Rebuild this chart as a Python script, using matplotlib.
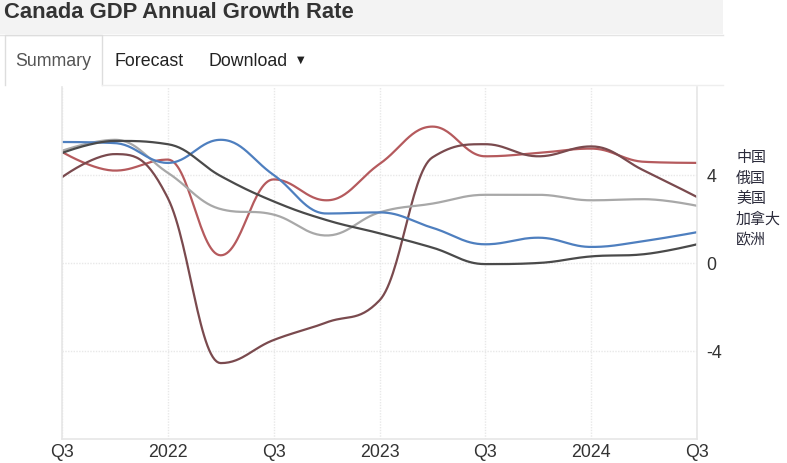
import numpy as np
import matplotlib.pyplot as plt
from matplotlib.patches import Rectangle
from matplotlib.lines import Line2D

plt.rcParams['axes.unicode_minus'] = False

quarters = ['2021Q3', '2021Q4', '2022Q1', '2022Q2', '2022Q3', '2022Q4', '2023Q1',
            '2023Q2', '2023Q3', '2023Q4', '2024Q1', '2024Q2', '2024Q3']
tick_labels = ['Q3', '2022', 'Q3', '2023', 'Q3', '2024', 'Q3']

china = [5.05, 4.2, 4.7, 0.35, 3.8, 2.85, 4.5, 6.2, 4.85, 5.0, 5.2, 4.6, 4.55]
russia = [3.9, 4.95, 2.95, -4.55, -3.5, -2.7, -1.7, 4.8, 5.4, 4.85, 5.3, 4.2, 3.0]
usa = [5.1, 5.6, 4.1, 2.45, 2.2, 1.25, 2.3, 2.7, 3.1, 3.1, 2.85, 2.9, 2.6]
canada = [5.5, 5.45, 4.55, 5.6, 4.0, 2.25, 2.3, 1.6, 0.85, 1.15, 0.73, 1.0, 1.4]
europe = [5.0, 5.55, 5.4, 3.95, 2.8, 1.95, 1.35, 0.7, -0.05, 0.0, 0.3, 0.4, 0.85]

names = ['中国', '俄国', '美国', '加拿大', '欧洲']
colors = ['#b55a5d', '#7a4a4e', '#a8a8a8', '#4e7fbf', '#4a4a4a']

W, H = 787, 464


def spline(y, n=30):
    # bezier spline like the web chart draws it (no false extremes)
    y = np.asarray(y, float)
    k = len(y)
    xs = np.arange(k, dtype=float)
    left = [None] * k
    right = [None] * k
    for i in range(k):
        if i == 0 or i == k - 1:
            left[i] = (xs[i], y[i])
            right[i] = (xs[i], y[i])
            continue
        lx = (1.5 * xs[i] + xs[i - 1]) / 2.5
        ly = (1.5 * y[i] + y[i - 1]) / 2.5
        rx = (1.5 * xs[i] + xs[i + 1]) / 2.5
        ry = (1.5 * y[i] + y[i + 1]) / 2.5
        corr = (ry - ly) * (rx - xs[i]) / (rx - lx) + y[i] - ry
        ly += corr
        ry += corr
        if ly > y[i - 1] and ly > y[i]:
            ly = max(y[i - 1], y[i])
            ry = 2 * y[i] - ly
        elif ly < y[i - 1] and ly < y[i]:
            ly = min(y[i - 1], y[i])
            ry = 2 * y[i] - ly
        if ry > y[i + 1] and ry > y[i]:
            ry = max(y[i + 1], y[i])
            ly = 2 * y[i] - ry
        elif ry < y[i + 1] and ry < y[i]:
            ry = min(y[i + 1], y[i])
            ly = 2 * y[i] - ry
        left[i] = (lx, ly)
        right[i] = (rx, ry)
    px, py = [], []
    t = np.linspace(0, 1, n, endpoint=False)
    for i in range(k - 1):
        p0 = (xs[i], y[i])
        p1 = right[i]
        p2 = left[i + 1]
        p3 = (xs[i + 1], y[i + 1])
        b0 = (1 - t)**3
        b1 = 3 * (1 - t)**2 * t
        b2 = 3 * (1 - t) * t**2
        b3 = t**3
        px.append(b0 * p0[0] + b1 * p1[0] + b2 * p2[0] + b3 * p3[0])
        py.append(b0 * p0[1] + b1 * p1[1] + b2 * p2[1] + b3 * p3[1])
    px.append([xs[-1]])
    py.append([y[-1]])
    return np.concatenate(px), np.concatenate(py)


fig = plt.figure(figsize=(W / 100, H / 100), dpi=100)
fig.patch.set_facecolor('white')


def fx(px):
    return px / W


def fy(py):
    return 1 - py / H


# header band and tabs
fig.patches.append(Rectangle((0, fy(35)), fx(723), 35 / H, transform=fig.transFigure,
                             facecolor='#f3f3f3', edgecolor='none', zorder=0))
fig.text(fx(4), fy(13), 'Canada GDP Annual Growth Rate', fontsize=15.8, fontweight='bold',
         color='#333333', family='Liberation Sans', va='center')
fig.lines.append(Line2D([fx(0), fx(723)], [fy(36), fy(36)], transform=fig.transFigure,
                        color='#e4e4e4', lw=1))
fig.lines.append(Line2D([fx(5), fx(5), fx(102), fx(102)], [fy(86), fy(36), fy(36), fy(86)],
                        transform=fig.transFigure, color='#dddddd', lw=1))
fig.lines.append(Line2D([fx(102), fx(723)], [fy(86), fy(86)], transform=fig.transFigure,
                        color='#eeeeee', lw=1))
fig.text(fx(15), fy(61), 'Summary', fontsize=12.8, color='#555555', family='Liberation Sans',
         va='center')
fig.text(fx(115), fy(61), 'Forecast', fontsize=12.8, color='#222222', family='Liberation Sans',
         va='center')
fig.text(fx(208), fy(61), 'Download', fontsize=12.8, color='#222222', family='Liberation Sans',
         va='center')
fig.text(fx(297), fy(60), '▼', fontsize=7, color='#222222', family='DejaVu Sans',
         va='center')

ax = fig.add_axes([fx(62), fy(440), fx(697 - 62), (440 - 88) / H])
x = np.arange(len(quarters))
for vals, c in zip([china, russia, usa, canada, europe], colors):
    sx, sy = spline(vals)
    ax.plot(sx, sy, color=c, lw=1.6, solid_capstyle='round')

ax.set_xlim(0, len(quarters) - 1)
ax.set_ylim(-8, 8)
ax.set_xticks(x[::2])
ax.set_xticklabels(tick_labels)
ax.set_yticks([-4, 0, 4])
ax.yaxis.tick_right()
ax.tick_params(axis='both', length=0, labelsize=12.8, colors='#333333')
ax.tick_params(axis='y', pad=7)
ax.tick_params(axis='x', pad=3)
for lab in ax.get_xticklabels() + ax.get_yticklabels():
    lab.set_family('Liberation Sans')
ax.grid(True, color='#e8e8e8', lw=1, ls=(0, (1, 1)))
for s in ['left', 'right', 'bottom']:
    ax.spines[s].set_color('#e6e6e6')
    ax.spines[s].set_linewidth(1.2)
ax.spines['top'].set_visible(False)

for i, nm in enumerate(names):
    fig.text(fx(736), fy(158 + i * 20.5), nm, fontsize=10.8, color='#2b2b3b',
             family=['Noto Sans CJK SC', 'DejaVu Sans'], va='center')

fig.savefig('out.png', dpi=100)
